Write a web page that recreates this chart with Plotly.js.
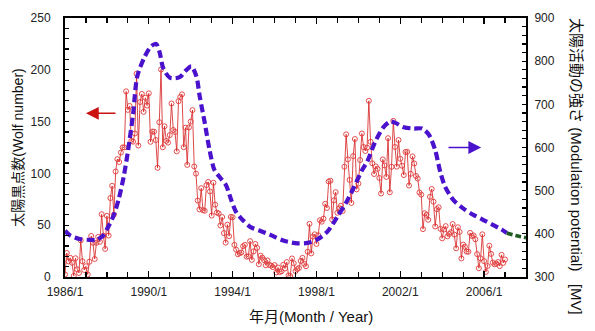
<!DOCTYPE html>
<html>
<head>
<meta charset="utf-8">
<script src="https://cdn.plot.ly/plotly-3.0.1.min.js"></script>
<style>html,body{margin:0;padding:0;background:#fff;}#chart{width:595px;height:331px;}</style>
</head>
<body>
<div id="chart"></div>
<script>
// Monthly sunspot (Wolf) numbers, starting 1986/1
const wolfStartYear = 1986;
const wolf = [
  2.5, 23.2, 15.1, 18.5, 13.7, 1.1, 18.1, 7.4, 3.8, 35.4, 15.2, 6.8,          // 1986
  10.4, 2.4, 14.7, 39.6, 33.0, 17.4, 33.0, 38.7, 33.9, 60.6, 39.9, 27.1,     // 1987
  59.0, 40.0, 76.2, 88.0, 60.1, 101.8, 113.8, 111.0, 120.1, 125.1, 125.1, 179.2, // 1988
  161.3, 165.1, 131.4, 130.6, 138.5, 196.2, 126.9, 168.9, 176.7, 159.4, 173.0, 165.5, // 1989
  177.3, 130.5, 140.3, 140.3, 132.2, 105.4, 149.4, 200.3, 125.2, 145.5, 131.4, 129.7, // 1990
  136.9, 167.5, 141.9, 140.0, 121.3, 169.7, 173.7, 176.3, 125.3, 144.1, 108.2, 144.4, // 1991
  150.0, 161.1, 106.7, 99.8, 73.8, 65.2, 85.7, 64.5, 63.9, 88.7, 91.8, 82.6, // 1992
  59.3, 91.0, 69.8, 62.2, 61.3, 49.8, 57.9, 42.4, 33.2, 50.5, 39.4, 58.0,    // 1993
  57.7, 31.0, 26.4, 21.9, 23.0, 23.6, 29.7, 31.0, 19.6, 20.1, 34.6, 16.5,    // 1994
  24.7, 31.9, 28.1, 12.3, 20.6, 18.7, 16.3, 11.3, 16.0, 11.7, 11.1, 9.5,     // 1995
  11.5, 4.4, 9.2, 4.8, 5.5, 11.8, 8.2, 14.4, 1.6, 0.9, 17.9, 13.3,           // 1996
  5.7, 7.6, 8.7, 15.5, 18.5, 12.7, 10.4, 24.4, 51.3, 22.8, 39.0, 41.2,       // 1997
  31.9, 40.3, 54.8, 53.4, 56.3, 70.7, 66.6, 92.2, 92.9, 55.5, 74.0, 81.9,    // 1998
  62.0, 66.3, 68.8, 63.7, 106.4, 137.7, 113.5, 93.7, 71.5, 116.7, 133.2, 84.6, // 1999
  90.1, 112.9, 138.5, 125.5, 121.6, 124.9, 170.1, 130.5, 109.7, 99.4, 106.8, 104.4, // 2000
  95.6, 80.6, 113.5, 107.7, 96.6, 134.0, 81.8, 106.4, 150.7, 125.5, 106.5, 132.2, // 2001
  114.1, 107.4, 98.4, 120.7, 120.8, 88.3, 99.6, 116.4, 109.6, 97.5, 95.0, 81.6, // 2002
  79.5, 46.2, 61.5, 60.0, 55.2, 77.4, 85.0, 72.7, 48.8, 65.5, 67.3, 46.5,    // 2003
  37.3, 45.8, 49.1, 39.3, 41.5, 43.2, 51.1, 40.9, 27.7, 48.0, 43.5, 17.9,    // 2004
  31.3, 29.2, 24.5, 24.4, 42.6, 39.6, 40.1, 36.4, 22.1, 8.5, 18.0, 41.2,     // 2005
  15.3, 4.9, 10.6, 30.2, 22.3, 13.9, 12.2, 12.9, 14.4, 10.5, 21.4, 13.6,     // 2006
  16.9                                                                        // 2007
];

// Modulation potential [MV]
const modYear = [1986.0, 1986.25, 1986.7, 1987.2, 1987.5, 1987.8, 1988.05, 1988.3, 1988.55, 1988.8,
  1989.0, 1989.25, 1989.45, 1989.8, 1990.1, 1990.35, 1990.52, 1990.68, 1991.0, 1991.47,
  1991.8, 1992.03, 1992.27, 1992.43, 1992.67, 1992.9, 1993.13, 1993.37, 1993.68, 1993.92,
  1994.16, 1994.48, 1994.88, 1995.36, 1995.83, 1996.45, 1997.09, 1997.57, 1998.04, 1998.52,
  1999.0, 1999.4, 1999.8, 2000.18, 2000.42, 2000.8, 2001.21, 2001.53, 2001.77, 2002.17,
  2002.65, 2003.04, 2003.36, 2003.66, 2003.9, 2004.14, 2004.54, 2005.0, 2005.49, 2005.97,
  2006.44, 2006.84, 2007.08];
const modValue = [407, 396, 388, 386, 386, 395, 415, 440, 478, 532,
  590, 678, 765, 810, 834, 840, 820, 785, 762, 763,
  780, 788, 765, 718, 657, 594, 548, 532, 513, 480,
  451, 432, 415, 406, 397, 384, 378, 379, 387, 405,
  440, 471, 509, 548, 567, 613, 648, 660, 657, 647,
  644, 644, 630, 595, 545, 509, 478, 459, 444, 432,
  420, 410, 402];
// Extrapolated tail (green)
const tailYear = [2007.08, 2007.5, 2008.0];
const tailValue = [402, 396, 391];

const wolfX = wolf.map((_, i) => wolfStartYear + i / 12);

const baseFont = 'Liberation Sans, Arial, "Noto Sans CJK JP", sans-serif';

const traces = [
  {
    x: wolfX, y: wolf, type: 'scatter', mode: 'lines+markers',
    line: {color: '#d41c1c', width: 0.8},
    marker: {symbol: 'circle-open', size: 5, color: '#e03a3a', line: {width: 0.9}},
    yaxis: 'y', hoverinfo: 'skip'
  },
  {
    x: modYear, y: modValue, type: 'scatter', mode: 'lines',
    line: {color: '#4a12cc', width: 4.2, dash: '8px,4px', shape: 'spline', smoothing: 0.8},
    yaxis: 'y2', hoverinfo: 'skip'
  },
  {
    x: tailYear, y: tailValue, type: 'scatter', mode: 'lines',
    line: {color: '#1f5a22', width: 3.5, dash: '6px,3px', shape: 'spline'},
    yaxis: 'y2', hoverinfo: 'skip'
  }
];

const layout = {
  width: 595, height: 331,
  margin: {l: 65, r: 69, t: 18, b: 54},
  paper_bgcolor: '#fff', plot_bgcolor: '#fff',
  showlegend: false,
  font: {family: baseFont, size: 12, color: '#222'},
  xaxis: {
    range: [1986, 2008], tick0: 1986, dtick: 4, ticksuffix: '/1',
    ticks: 'inside', ticklen: 6, tickwidth: 1.2, tickcolor: '#000',
    minor: {dtick: 1, ticks: 'inside', ticklen: 5, tickwidth: 1.2, tickcolor: '#000'},
    showline: true, linewidth: 2, linecolor: '#000', mirror: 'ticks',
    showgrid: false, zeroline: false, ticklabelstandoff: 3,
    tickfont: {family: baseFont, size: 12, color: '#222'}
  },
  yaxis: {
    range: [0, 250], dtick: 50,
    ticks: 'inside', ticklen: 4, tickwidth: 1.2, tickcolor: '#000',
    minor: {dtick: 10, ticks: 'inside', ticklen: 4, tickwidth: 1.2, tickcolor: '#000'},
    showline: true, linewidth: 2, linecolor: '#000',
    showgrid: false, zeroline: false, ticklabelstandoff: 10,
    tickfont: {family: baseFont, size: 12, color: '#222'},
    title: {text: '太陽黒点数(Wolf number)', font: {family: baseFont, size: 14, color: '#111'}, standoff: 4}
  },
  yaxis2: {
    range: [300, 900], dtick: 100, overlaying: 'y', side: 'right',
    ticks: 'inside', ticklen: 4, tickwidth: 1.2, tickcolor: '#000',
    minor: {dtick: 20, ticks: 'inside', ticklen: 4, tickwidth: 1.2, tickcolor: '#000'},
    showline: true, linewidth: 2, linecolor: '#000',
    showgrid: false, zeroline: false, ticklabelstandoff: 4,
    tickfont: {family: baseFont, size: 12, color: '#222'}
  },
  annotations: [
    {
      text: '年月(Month / Year)', xref: 'paper', yref: 'paper', x: 0.5336, y: -0.1506,
      xanchor: 'center', yanchor: 'middle', showarrow: false,
      font: {family: baseFont, size: 15, color: '#111'}
    },
    {
      text: '太陽活動の強さ (Modulation potential)   [MV]', xref: 'paper', yref: 'paper',
      x: 1.1106, y: 0.4247, xanchor: 'center', yanchor: 'middle', textangle: 90, showarrow: false,
      font: {family: baseFont, size: 15, color: '#111'}
    },
    {
      x: 1987.0, y: 158, xref: 'x', yref: 'y', ax: 1988.48, ay: 158, axref: 'x', ayref: 'y',
      text: '', showarrow: true, arrowhead: 2, arrowsize: 1.6, arrowwidth: 1.6, arrowcolor: '#cc1111'
    },
    {
      x: 2005.86, y: 600, xref: 'x', yref: 'y2', ax: 2004.23, ay: 600, axref: 'x', ayref: 'y2',
      text: '', showarrow: true, arrowhead: 2, arrowsize: 1.6, arrowwidth: 1.6, arrowcolor: '#4a12cc'
    }
  ]
};

Plotly.newPlot('chart', traces, layout, {staticPlot: true, displayModeBar: false});
</script>
</body>
</html>
